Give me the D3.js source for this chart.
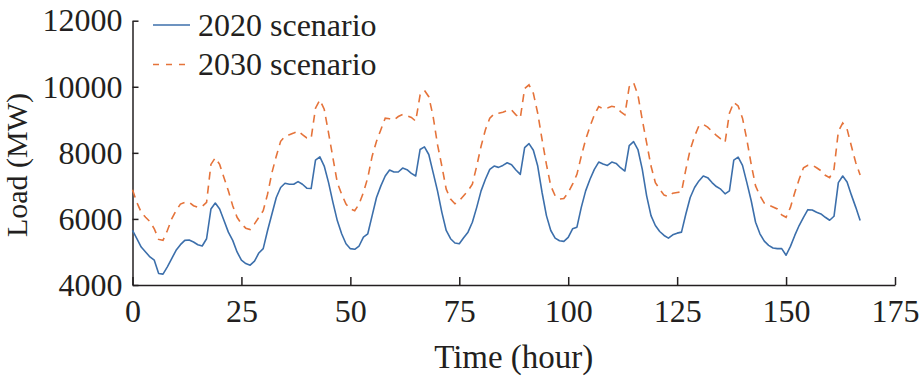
<!DOCTYPE html>
<html>
<head>
    <meta charset="utf-8">
    <script src="https://d3js.org/d3.v7.min.js"></script>
    <style>
        body { margin: 0; background: #fff; }
        text { font-family: "Liberation Serif", "Times New Roman", serif; fill: #231f20; }
    </style>
</head>
<body>
    <div class="load-chart"></div>

<script>

    // hourly load, one week (hour 0 .. 167)
    const hours = d3.range(0, 168);

    const load2020 = [
        5650, 5400, 5150, 5000, 4850, 4750, 4350, 4330, 4550, 4800,
        5050, 5220, 5350, 5360, 5300, 5220, 5180, 5400, 6300, 6480,
        6300, 5950, 5600, 5350, 5000, 4750, 4650, 4600, 4720, 4970,
        5100, 5650, 6150, 6650, 6950, 7080, 7050, 7050, 7130, 7050,
        6930, 6920, 7780, 7880, 7600, 7100, 6500, 5950, 5550, 5250,
        5100, 5080, 5180, 5450, 5550, 6100, 6650, 7000, 7300, 7480,
        7420, 7420, 7540, 7490, 7380, 7300, 8100, 8180, 7950, 7400,
        6850, 6200, 5650, 5400, 5270, 5250, 5430, 5600, 5900, 6350,
        6850, 7200, 7500, 7600, 7560, 7620, 7700, 7640, 7480, 7350,
        8160, 8280, 8080, 7600, 6800, 6100, 5650, 5420, 5340, 5320,
        5440, 5700, 5750, 6350, 6850, 7200, 7500, 7720, 7660, 7620,
        7720, 7680, 7550, 7450, 8220, 8340, 8100, 7500, 6700, 6100,
        5800, 5620, 5500, 5420, 5520, 5570, 5600, 6150, 6650, 6950,
        7150, 7300, 7250, 7100, 6980, 6900, 6760, 6850, 7780, 7870,
        7620, 7100, 6550, 5900, 5550, 5330, 5200, 5120, 5100, 5100,
        4900, 5170, 5500, 5800, 6050, 6280, 6270, 6200, 6150, 6050,
        5960, 6080, 7100, 7300, 7120, 6720, 6350, 5950
    ];

    const load2030 = [
        6880, 6500, 6200, 6050, 5920, 5700, 5380, 5350, 5650, 6000,
        6250, 6450, 6500, 6500, 6400, 6350, 6380, 6500, 7650, 7850,
        7650, 7250, 6850, 6400, 6050, 5850, 5720, 5680, 5850, 6050,
        6250, 6750, 7400, 7900, 8350, 8500, 8550, 8600, 8660, 8550,
        8450, 8440, 9350, 9600, 9320, 8600, 7850, 7100, 6750, 6450,
        6300, 6250, 6450, 6800, 7250, 7900, 8350, 8700, 9050, 9030,
        9000, 9100, 9160, 9120, 9070, 8960, 9750, 9890, 9700, 9100,
        8250, 7600, 6900, 6600, 6460, 6550, 6700, 6850, 7050, 7600,
        8200, 8700, 9050, 9180, 9200, 9230, 9280, 9300, 9150, 9050,
        9950, 10060, 9800, 9200, 8400, 7650, 7000, 6700, 6600, 6620,
        6800, 7050, 7350, 7900, 8400, 8800, 9150, 9400, 9340, 9360,
        9410, 9380, 9250, 9150, 10000, 10130, 9750, 9000, 8300, 7600,
        7100, 6900, 6720, 6680, 6780, 6800, 6820, 7500, 8100, 8500,
        8820, 8860, 8780, 8650, 8530, 8420, 8320, 9200, 9530, 9420,
        9050, 8400, 7650, 7000, 6700, 6480, 6420, 6360, 6300, 6120,
        6050, 6350, 6800, 7200, 7550, 7620, 7630, 7550, 7460, 7320,
        7250, 7500, 8650, 8900, 8720, 8200, 7700, 7330
    ];

    const xTicks = [0, 25, 50, 75, 100, 125, 150, 175];
    const yTicks = [4000, 6000, 8000, 10000, 12000];
    const seriesNames = ["2020 scenario", "2030 scenario"];

    const width = 922;
    const height = 379;
    const margin = { top: 20.7, right: 27, bottom: 94, left: 132.5 };

    const svg = d3.select('.load-chart')
        .append('svg')
        .attr('width', width)
        .attr('height', height);

    const x = d3.scaleLinear()
        .domain([0, 175])
        .range([margin.left, width - margin.right]);

    const y = d3.scaleLinear()
        .domain([4000, 12000])
        .range([height - margin.bottom, margin.top]);

    // axes with inward ticks
    const xAxis = svg.append('g')
        .attr('transform', 'translate(0,' + (height - margin.bottom) + ')')
        .call(d3.axisBottom(x).tickValues(xTicks).tickSizeInner(-8).tickSizeOuter(0).tickPadding(14));

    const yAxis = svg.append('g')
        .attr('transform', 'translate(' + margin.left + ',0)')
        .call(d3.axisLeft(y).tickValues(yTicks).tickFormat(d3.format('d')).tickSizeInner(-6).tickSizeOuter(0).tickPadding(10));

    svg.selectAll('.domain, .tick line')
        .attr('stroke', '#231f20')
        .attr('stroke-width', 1.5);

    svg.selectAll('.tick text')
        .attr('font-size', 32)
        .attr('fill', '#231f20');

    // axis titles
    svg.append('text')
        .attr('x', (x(0) + x(175)) / 2)
        .attr('y', 368)
        .attr('text-anchor', 'middle')
        .attr('font-size', 33)
        .text('Time (hour)');

    svg.append('text')
        .attr('transform', 'translate(27,165) rotate(-90)')
        .attr('text-anchor', 'middle')
        .attr('font-size', 30)
        .text('Load (MW)');

    // lines
    const line = d3.line()
        .x((d, i) => x(hours[i]))
        .y(d => y(d));

    svg.append('path')
        .datum(load2020)
        .attr('fill', 'none')
        .attr('stroke', '#3c6fab')
        .attr('stroke-width', 1.6)
        .attr('stroke-linejoin', 'round')
        .attr('d', line);

    svg.append('path')
        .datum(load2030)
        .attr('fill', 'none')
        .attr('stroke', '#e5733a')
        .attr('stroke-width', 1.6)
        .attr('stroke-dasharray', '8,6')
        .attr('d', line);

    // legend
    const legend = svg.append('g');
    const legendStyles = [
        { color: '#3c6fab', dash: null },
        { color: '#e5733a', dash: '6,7' }
    ];

    seriesNames.forEach(function (name, i) {
        const ly = 25 + i * 39.5;
        legend.append('line')
            .attr('x1', 153)
            .attr('x2', 190)
            .attr('y1', ly)
            .attr('y2', ly)
            .attr('stroke', legendStyles[i].color)
            .attr('stroke-width', 1.6)
            .attr('stroke-dasharray', legendStyles[i].dash);
        legend.append('text')
            .attr('x', 198)
            .attr('y', ly + 10.5)
            .attr('font-size', 32)
            .text(name);
    });

</script>
</body>
</html>
